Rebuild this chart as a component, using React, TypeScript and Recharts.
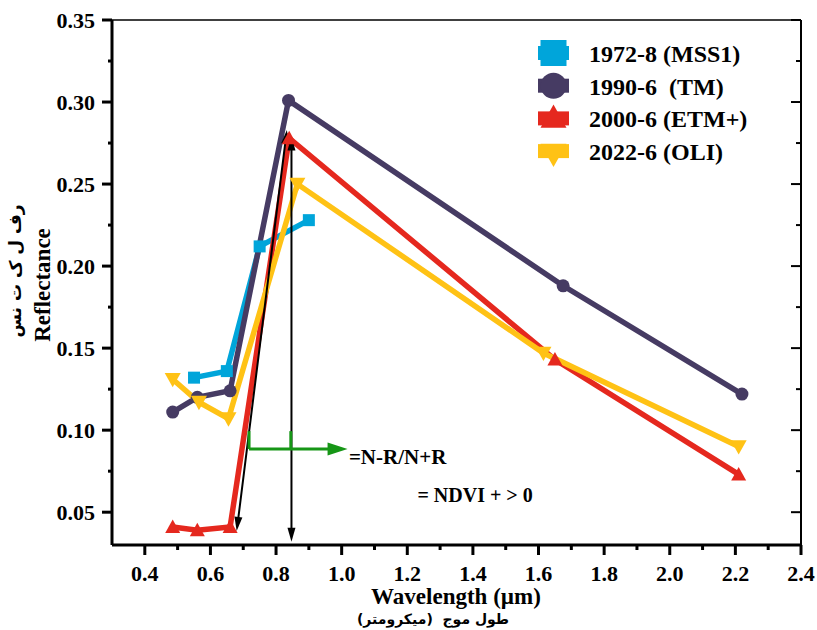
import React from 'react';
import { LineChart, Line, XAxis, YAxis, Legend, ReferenceLine, ReferenceDot, Label } from 'recharts';

// band centres (µm) and reflectance per sensor
const mssX = [0.55, 0.65, 0.75, 0.9];
const mssY = [0.132, 0.136, 0.212, 0.228];
const tmX = [0.485, 0.56, 0.66, 0.838, 1.675, 2.22];
const tmY = [0.111, 0.12, 0.124, 0.301, 0.188, 0.122];
const etmX = [0.485, 0.56, 0.66, 0.84, 1.65, 2.21];
const etmY = [0.041, 0.039, 0.041, 0.278, 0.143, 0.073];
const oliX = [0.485, 0.565, 0.655, 0.865, 1.615, 2.21];
const oliY = [0.131, 0.117, 0.107, 0.25, 0.147, 0.09];

const seriesNames = ['1972-8 (MSS1)', '1990-6  (TM)', '2000-6 (ETM+)', '2022-6 (OLI)'];
const seriesColors = ['#00a5da', '#463b63', '#e5281e', '#ffc215'];
const seriesShapes = ['square', 'circle', 'triUp', 'triDown'];

const xTicks = [0.4, 0.5, 0.6, 0.7, 0.8, 0.9, 1.0, 1.1, 1.2, 1.3, 1.4, 1.5, 1.6, 1.7, 1.8, 1.9, 2.0, 2.1, 2.2, 2.3, 2.4];
const xMajor = [0.4, 0.6, 0.8, 1.0, 1.2, 1.4, 1.6, 1.8, 2.0, 2.2, 2.4];
const yTicks = [0.05, 0.075, 0.1, 0.125, 0.15, 0.175, 0.2, 0.225, 0.25, 0.275, 0.3, 0.325, 0.35];
const yMajor = [0.05, 0.1, 0.15, 0.2, 0.25, 0.3, 0.35];

const toRows = (xs: number[], ys: number[]) => xs.map((x, i) => ({ x, y: ys[i] }));
const mssData = toRows(mssX, mssY);
const tmData = toRows(tmX, tmY);
const etmData = toRows(etmX, etmY);
const oliData = toRows(oliX, oliY);

const serif = '"Liberation Serif", "Times New Roman", serif';
const arabic = '"DejaVu Sans", sans-serif';
const tickFont = { fontFamily: serif, fontWeight: 700, fontSize: 22, fill: '#000' };

const marker = (kind: string, cx: number, cy: number, s: number, color: string, key?: string) => {
  const h = s / 2;
  if (kind === 'square') return <rect key={key} x={cx - h} y={cy - h} width={s} height={s} fill={color} />;
  if (kind === 'circle') return <circle key={key} cx={cx} cy={cy} r={h} fill={color} />;
  if (kind === 'triUp')
    return <polygon key={key} points={`${cx},${cy - h} ${cx + h},${cy + h * 0.8} ${cx - h},${cy + h * 0.8}`} fill={color} />;
  return <polygon key={key} points={`${cx},${cy + h} ${cx + h},${cy - h * 0.8} ${cx - h},${cy - h * 0.8}`} fill={color} />;
};

const BottomTick = (p: any) => {
  const { x, y, payload } = p;
  const major = xMajor.includes(payload.value);
  return (
    <g>
      <line x1={x} y1={y} x2={x} y2={y + (major ? 10 : 5)} stroke="#000" strokeWidth={3} />
      {major && (
        <text x={x} y={y + 36} textAnchor="middle" style={tickFont}>
          {payload.value.toFixed(1)}
        </text>
      )}
    </g>
  );
};

const TopTick = (p: any) => {
  const { x, y, payload } = p;
  const major = xMajor.includes(payload.value);
  return <line x1={x} y1={y} x2={x} y2={y + (major ? 7 : 4)} stroke="#000" strokeWidth={2} />;
};

const LeftTick = (p: any) => {
  const { x, y, payload } = p;
  const major = yMajor.includes(payload.value);
  return (
    <g>
      <line x1={x} y1={y} x2={x - (major ? 10 : 4)} y2={y} stroke="#000" strokeWidth={3} />
      {major && (
        <text x={x - 17} y={y} dy="0.36em" textAnchor="end" style={tickFont}>
          {payload.value.toFixed(2)}
        </text>
      )}
    </g>
  );
};

const RightTick = (p: any) => {
  const { x, y, payload } = p;
  const major = yMajor.includes(payload.value);
  return <line x1={x} y1={y} x2={x - (major ? 10 : 5)} y2={y} stroke="#000" strokeWidth={2} />;
};

// line with arrow heads drawn at the chosen ends
const arrow = (color: string, sw: number, hl: number, hw: number, atStart: boolean, atEnd: boolean) => (p: any) => {
  const { x1, y1, x2, y2 } = p;
  const len = Math.hypot(x2 - x1, y2 - y1) || 1;
  const ux = (x2 - x1) / len;
  const uy = (y2 - y1) / len;
  const head = (tx: number, ty: number, dx: number, dy: number) => {
    const bx = tx - dx * hl;
    const by = ty - dy * hl;
    const px = (-dy * hw) / 2;
    const py = (dx * hw) / 2;
    return `${tx},${ty} ${bx + px},${by + py} ${bx - px},${by - py}`;
  };
  const sx = atStart ? x1 + ux * hl * 0.8 : x1;
  const sy = atStart ? y1 + uy * hl * 0.8 : y1;
  const ex = atEnd ? x2 - ux * hl * 0.8 : x2;
  const ey = atEnd ? y2 - uy * hl * 0.8 : y2;
  return (
    <g>
      <line x1={sx} y1={sy} x2={ex} y2={ey} stroke={color} strokeWidth={sw} />
      {atStart && <polygon points={head(x1, y1, -ux, -uy)} fill={color} />}
      {atEnd && <polygon points={head(x2, y2, ux, uy)} fill={color} />}
    </g>
  );
};

const renderLegend = () => (
  <svg width={260} height={145}>
    {seriesNames.map((name, i) => {
      const base = 32 + i * 32.7;
      const cy = base - 9;
      return (
        <g key={name}>
          <rect x={8} y={cy - 7} width={31} height={14} fill={seriesColors[i]} />
          {marker(seriesShapes[i], 23.5, cy + (i === 2 ? -1 : i === 3 ? 3 : 0), 26, seriesColors[i])}
          <text x={59} y={base} style={{ fontFamily: serif, fontWeight: 700, fontSize: 24, whiteSpace: 'pre' }} fill="#000">
            {name}
          </text>
        </g>
      );
    })}
  </svg>
);

const YTitle = () => (
  <g>
    <text transform="translate(50,285) rotate(-90)" textAnchor="middle" style={{ fontFamily: serif, fontWeight: 700, fontSize: 23 }} fill="#000">
      Reflectance
    </text>
    <text transform="translate(21,271) rotate(-90)" textAnchor="middle" direction="rtl" style={{ fontFamily: arabic, fontWeight: 700, fontSize: 17, whiteSpace: 'pre' }} fill="#000">
      رف ل ک ت نس
    </text>
  </g>
);

const XTitle = () => (
  <g>
    <text x={456} y={604} textAnchor="middle" style={{ fontFamily: serif, fontWeight: 700, fontSize: 23 }} fill="#000">
      Wavelength (µm)
    </text>
    <text x={433} y={624} textAnchor="middle" direction="rtl" style={{ fontFamily: arabic, fontWeight: 700, fontSize: 14, whiteSpace: 'pre' }} fill="#000">
      طول موج  (میکرومتر)
    </text>
  </g>
);

const dotFor = (kind: string, size: number, color: string) => (p: any) =>
  marker(kind, p.cx, p.cy, size, color, `${kind}-${p.index}`);

export default function App() {
  return (
    <div style={{ position: 'absolute', left: 0, top: 0, background: '#fff' }}>
      <LineChart width={817} height={630} margin={{ top: 0, right: 0, bottom: 0, left: 0 }}>
        <XAxis xAxisId="b" dataKey="x" type="number" domain={[0.3, 2.4]} allowDataOverflow ticks={xTicks} interval={0}
          height={85} tickSize={0} tickMargin={0} tick={<BottomTick />} axisLine={{ stroke: '#000', strokeWidth: 3 }}>
          <Label content={<XTitle />} />
        </XAxis>
        <XAxis xAxisId="t" orientation="top" type="number" domain={[0.3, 2.4]} allowDataOverflow ticks={xTicks} interval={0}
          height={20} tickSize={0} tickMargin={0} tick={<TopTick />} axisLine={{ stroke: '#000', strokeWidth: 1.5 }} />
        <YAxis yAxisId="l" dataKey="y" type="number" domain={[0.03, 0.35]} allowDataOverflow ticks={yTicks} interval={0}
          width={112} tickSize={0} tickMargin={0} tick={<LeftTick />} axisLine={{ stroke: '#000', strokeWidth: 3 }}>
          <Label content={<YTitle />} />
        </YAxis>
        <YAxis yAxisId="r" orientation="right" type="number" domain={[0.03, 0.35]} allowDataOverflow ticks={yTicks} interval={0}
          width={16} tickSize={0} tickMargin={0} tick={<RightTick />} axisLine={{ stroke: '#000', strokeWidth: 2 }} />

        <Line xAxisId="b" yAxisId="l" data={mssData} dataKey="y" stroke={seriesColors[0]} strokeWidth={5.5}
          dot={dotFor('square', 12, seriesColors[0])} activeDot={false} isAnimationActive={false} />
        <Line xAxisId="b" yAxisId="l" data={tmData} dataKey="y" stroke={seriesColors[1]} strokeWidth={5.5}
          dot={dotFor('circle', 13, seriesColors[1])} activeDot={false} isAnimationActive={false} />
        <Line xAxisId="b" yAxisId="l" data={etmData} dataKey="y" stroke={seriesColors[2]} strokeWidth={5.5}
          dot={dotFor('triUp', 15, seriesColors[2])} activeDot={false} isAnimationActive={false} />
        <Line xAxisId="b" yAxisId="l" data={oliData} dataKey="y" stroke={seriesColors[3]} strokeWidth={5.5}
          dot={dotFor('triDown', 16, seriesColors[3])} activeDot={false} isAnimationActive={false} />

        {/* NDVI annotation arrows */}
        <ReferenceLine xAxisId="b" yAxisId="l" segment={[{ x: 0.68, y: 0.0386 }, { x: 0.833, y: 0.283 }]}
          shape={arrow('#000', 2, 14, 8, true, true)} />
        <ReferenceLine xAxisId="b" yAxisId="l" segment={[{ x: 0.847, y: 0.032 }, { x: 0.847, y: 0.279 }]}
          shape={arrow('#000', 2, 14, 8, true, true)} />
        <ReferenceLine xAxisId="b" yAxisId="l" segment={[{ x: 0.7177, y: 0.0994 }, { x: 0.7177, y: 0.0885 }]}
          shape={arrow('#169616', 3, 0, 0, false, false)} />
        <ReferenceLine xAxisId="b" yAxisId="l" segment={[{ x: 0.845, y: 0.0994 }, { x: 0.845, y: 0.0885 }]}
          shape={arrow('#169616', 3, 0, 0, false, false)} />
        <ReferenceLine xAxisId="b" yAxisId="l" segment={[{ x: 0.7177, y: 0.0885 }, { x: 1.018, y: 0.0885 }]}
          shape={arrow('#169616', 3, 20, 13, false, true)} />
        <ReferenceDot xAxisId="b" yAxisId="l" x={1.022} y={0.0793}
          shape={(p: any) => (
            <text x={p.cx} y={p.cy} style={{ fontFamily: serif, fontWeight: 700, fontSize: 21 }} fill="#000">=N-R/N+R</text>
          )} />
        <ReferenceDot xAxisId="b" yAxisId="l" x={1.231} y={0.0562}
          shape={(p: any) => (
            <text x={p.cx} y={p.cy} style={{ fontFamily: serif, fontWeight: 700, fontSize: 20, whiteSpace: 'pre' }} fill="#000">= NDVI + &gt; 0</text>
          )} />

        <Legend layout="vertical" align="center" verticalAlign="middle" content={renderLegend}
          wrapperStyle={{ left: 530, top: 30, width: 260, height: 145 }} />
      </LineChart>
    </div>
  );
}
